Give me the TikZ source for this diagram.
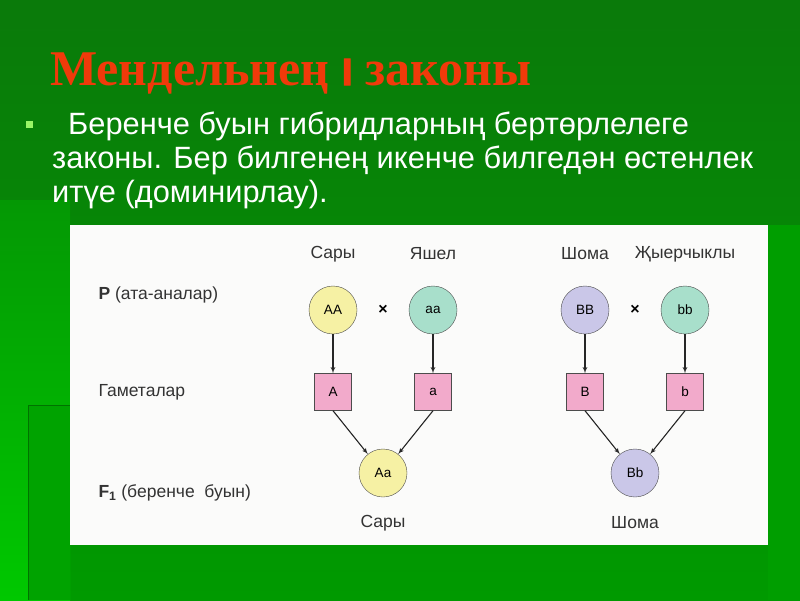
\documentclass[tikz,border=0pt]{standalone}
\usepackage{fontspec}
\setmainfont{Liberation Sans}
\newfontfamily\titlefont{Liberation Serif}
\newfontfamily\barfont[FakeBold=3]{Liberation Sans}
\usepackage{tikz}
\usetikzlibrary{shapes,arrows}

\definecolor{bgtop}{HTML}{0A7A0A}
\definecolor{bgbot}{HTML}{009A00}
\definecolor{striptop}{HTML}{049804}
\definecolor{stripbot}{HTML}{00C800}
\definecolor{titlered}{HTML}{F03A0A}
\definecolor{bulletgreen}{HTML}{99F566}
\definecolor{panelwhite}{HTML}{FBFBFA}
\definecolor{yellowc}{HTML}{F6F1A4}
\definecolor{greenc}{HTML}{A8DFCB}
\definecolor{violetc}{HTML}{CAC7E8}
\definecolor{pinkc}{HTML}{F2AACB}

\begin{document}
\begin{tikzpicture}[
  x=1pt, y=-1pt,
  node distance=100pt,
  parent/.style={circle, draw=black!70, minimum size=48pt, inner sep=0pt, font=\fontsize{13.5}{13.5}\selectfont},
  gamete/.style={rectangle, draw=black!70, fill=pinkc, minimum size=37pt, inner sep=0pt, font=\fontsize{13.5}{13.5}\selectfont},
  label/.style={text=black!80, font=\fontsize{17.5}{17.5}\selectfont},
  bullettext/.style={anchor=base west, text=white, inner sep=0pt, font=\fontsize{30.8}{33}\selectfont},
  line/.style={draw, black!85, line width=1.1pt, -latex'}
]

% background of the slide
\useasboundingbox (0,0) rectangle (800,600);
\shade[top color=bgtop, bottom color=bgbot] (0,0) rectangle (800,600);
\shade[top color=striptop, bottom color=stripbot] (0,200) rectangle (70,600);
\fill[green!64!black] (28,405) rectangle (70,600);
\draw[green!45!black] (28,600) -- (28,405) -- (70,405);
\fill[green!62!black] (768,225) rectangle (800,600);

% title and text
\node[anchor=base west, inner sep=0pt, text=titlered, font=\titlefont\bfseries\fontsize{50}{50}\selectfont] (title) at (50,85)
  {Мендельнең {\barfont\fontsize{38}{38}\selectfont I} законы};
\node[fill=bulletgreen, minimum size=7pt, inner sep=0pt] (bullet) at (29.5,124) {};
\node[bullettext] (line1) at (68,134) {Беренче буын гибридларның бертөрлелеге};
\node[bullettext] (line2) at (52,168) {законы. Бер билгенең икенче билгедән өстенлек};
\node[bullettext] (line3) at (52,202) {итүе (доминирлау).};

% white panel
\fill[panelwhite] (70,225) rectangle (768,545);

% row names
\node[label, anchor=west] (prow) at (95,295) {\textbf{P} (ата-аналар)};
\node[label, anchor=west] (grow) at (95,392) {Гаметалар};
\node[label, anchor=west] (frow) at (95,493) {\textbf{F\textsubscript{1}} (беренче\ \ буын)};

% first cross
\node [parent, fill=yellowc] (AA) at (333,310) {AA};
\node [parent, fill=greenc, right of=AA] (aa) {aa};
\node [right of=AA, node distance=50pt, font=\bfseries\fontsize{16}{16}\selectfont] (cross1) {×};
\node [gamete, below of=AA, node distance=82pt] (A) {A};
\node [gamete, below of=aa, node distance=82pt] (a) {a};
\node [parent, fill=yellowc, below of=A, xshift=50pt, node distance=81pt] (Aa) {Aa};
\node [label, above of=AA, node distance=56pt] (colAA) {Сары};
\node [label, above of=aa, node distance=56pt] (colaa) {Яшел};
\node [label, below of=Aa, node distance=50pt] (colAa) {Сары};

% second cross
\node [parent, fill=violetc] (BB) at (585,310) {BB};
\node [parent, fill=greenc, right of=BB] (bb) {bb};
\node [right of=BB, node distance=50pt, font=\bfseries\fontsize{16}{16}\selectfont] (cross2) {×};
\node [gamete, below of=BB, node distance=82pt] (B) {B};
\node [gamete, below of=bb, node distance=82pt] (b) {b};
\node [parent, fill=violetc, below of=B, xshift=50pt, node distance=81pt] (Bb) {Bb};
\node [label, above of=BB, node distance=56pt] (colBB) {Шома};
\node [label, above of=bb, node distance=56pt] (colbb) {Җыерчыклы};
\node [label, below of=Bb, node distance=50pt] (colBb) {Шома};

\path [line] (AA) -- (A);
\path [line] (aa) -- (a);
\path [line] (A.south) -- (Aa);
\path [line] (a.south) -- (Aa);
\path [line] (BB) -- (B);
\path [line] (bb) -- (b);
\path [line] (B.south) -- (Bb);
\path [line] (b.south) -- (Bb);

\end{tikzpicture}
\end{document}
